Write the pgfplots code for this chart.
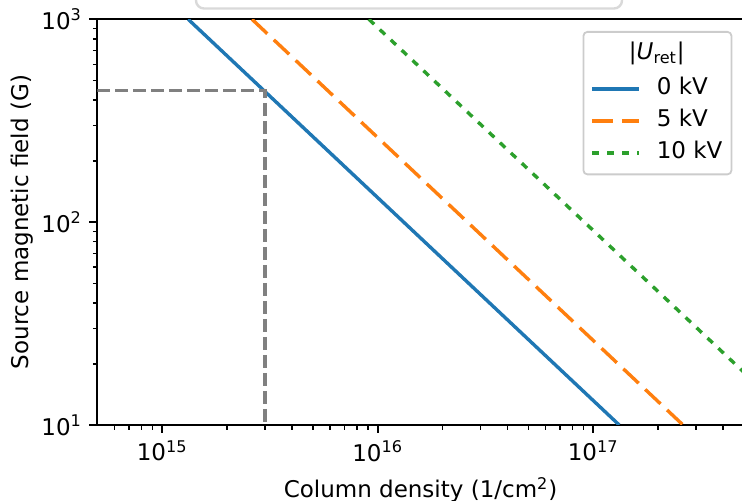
\documentclass[border=0pt]{standalone}
\usepackage{pgfplots}
\pgfplotsset{compat=1.18}
\usepackage{fontspec}
\setmainfont{DejaVu Sans}
\definecolor{tabblue}{HTML}{1F77B4}
\definecolor{taborange}{HTML}{FF7F0E}
\definecolor{tabgreen}{HTML}{2CA02C}
\definecolor{mplgray}{HTML}{808080}
\newcommand{\ff}{\fontsize{11.5}{13.8}\selectfont}
\begin{document}
\begin{tikzpicture}
\begin{axis}[name=ax, at={(0,0)}, anchor=south west,
  scale only axis, width=323.25pt, height=202.85pt,
  xmode=log, ymode=log, xmin=5e14, xmax=5e17, ymin=10, ymax=1000,
  axis line style={line width=0.9pt, black},
  tick align=outside, tick pos=left,
  major tick length=4pt, minor tick length=2.3pt,
  every major tick/.append style={line width=0.9pt, black},
  every minor tick/.append style={line width=0.7pt, black},
  xtick={1e15,1e16,1e17},
  xticklabels={10\textsuperscript{15},10\textsuperscript{16},10\textsuperscript{17}},
  minor xtick={6e14,7e14,8e14,9e14,2e15,3e15,4e15,5e15,6e15,7e15,8e15,9e15,2e16,3e16,4e16,5e16,6e16,7e16,8e16,9e16,2e17,3e17,4e17},
  ytick={10,100,1000},
  yticklabels={10\textsuperscript{1},10\textsuperscript{2},10\textsuperscript{3}},
  minor ytick={20,30,40,50,60,70,80,90,200,300,400,500,600,700,800,900},
  tick label style={font=\ff},
  xticklabel style={anchor=north, inner sep=0pt, yshift=-3.5pt},
  yticklabel style={anchor=east, inner sep=0pt, xshift=-3.5pt},
  xlabel={Column density (1/cm\textsuperscript{2})},
  ylabel={Source magnetic field (G)},
  label style={font=\ff},
  xlabel style={at={(axis description cs:0.5,0)}, anchor=center, yshift=-32.5pt},
  ylabel style={at={(axis description cs:0,0.5)}, anchor=center, yshift=37.4pt},
  legend style={font=\ff, draw=black!20, line width=0.9pt, rounded corners=2pt,
    fill=white, at={(1,1)}, anchor=north east, xshift=-5.75pt, yshift=-5.85pt,
    inner xsep=3.5pt, inner ysep=4.5pt, row sep=3.5pt,
    nodes={inner sep=1pt, text height=8.3pt, text depth=2.2pt}},
  legend cell align=left,
  legend image code/.code={\draw[#1] (0pt,0pt) -- (23.3pt,0pt); \path (30.5pt,0pt);},
]
\addlegendimage{empty legend}
\addlegendentry[text depth=3.95pt]{\makebox[0pt]{|\textit{U}\textsubscript{ret}|}}
\addplot[tabblue, line width=1.7pt] coordinates {(1.32e15,1000) (1.32e17,10)};
\addlegendentry{0 kV}
\addplot[taborange, line width=1.7pt, dash pattern=on 10.5pt off 4.5pt] coordinates {(2.61e15,1000) (2.61e17,10)};
\addlegendentry{5 kV}
\addplot[tabgreen, line width=1.7pt, dash pattern=on 3.6pt off 3.9pt] coordinates {(9.1e15,1000) (5e17,18.2)};
\addlegendentry{10 kV}
\addplot[mplgray, line width=1.7pt, dash pattern=on 6.3pt off 2.7pt, forget plot] coordinates {(5e14,445) (3e15,445) (3e15,10)};
\end{axis}
\draw[black!15, line width=1.2pt, rounded corners=4pt]
  ([shift={(49.35pt,216pt)}]ax.south west) -- ([shift={(49.35pt,208.25pt)}]ax.south west)
  -- ([shift={(262.35pt,208.25pt)}]ax.south west) -- ([shift={(262.35pt,216pt)}]ax.south west);
\pgfresetboundingbox
\path[use as bounding box] ([shift={(-48.65pt,-38pt)}]ax.south west) rectangle ([shift={(322.35pt,212.5pt)}]ax.south west);
\end{tikzpicture}
\end{document}
